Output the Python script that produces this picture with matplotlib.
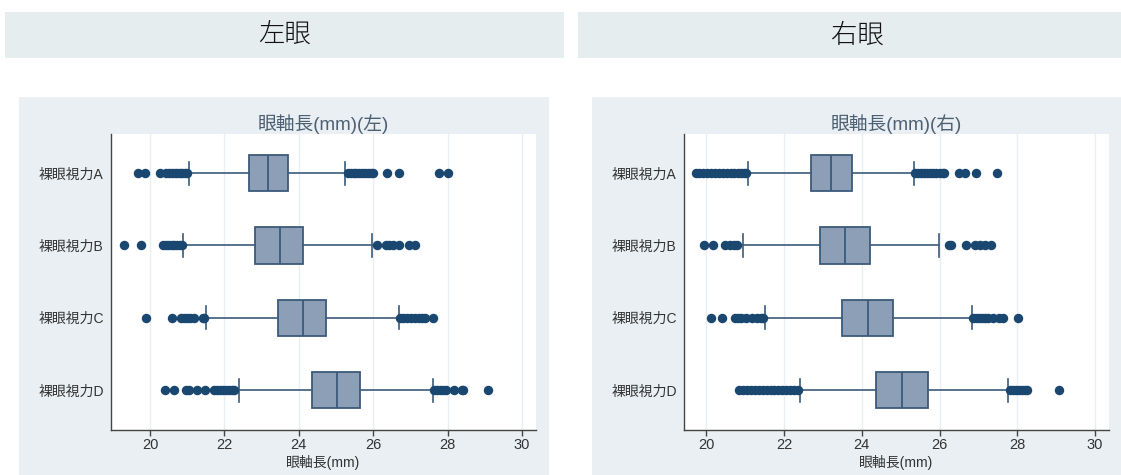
import matplotlib
matplotlib.use("Agg")
import matplotlib.pyplot as plt
from matplotlib.patches import Rectangle

plt.rcParams['font.family'] = ['Liberation Sans', 'Noto Sans CJK JP', 'DejaVu Sans']

# ---------------- data ----------------
categories = ["裸眼視力A", "裸眼視力B", "裸眼視力C", "裸眼視力D"]
xticks = [20, 22, 24, 26, 28, 30]

# Left eye
L_q1 = [22.65, 22.82, 23.44, 24.35]
L_med = [23.18, 23.50, 24.11, 25.04]
L_q3 = [23.70, 24.10, 24.74, 25.65]
L_wlo = [21.04, 20.89, 21.51, 22.39]
L_whi = [25.25, 25.98, 26.69, 27.60]
L_out_A = [19.68, 19.86, 20.28, 20.44, 20.52, 20.60, 20.66, 20.73, 20.80, 20.86, 20.93, 21.00,
           25.33, 25.40, 25.48, 25.55, 25.62, 25.70, 25.78, 25.86, 25.94, 26.00, 26.36, 26.70, 27.78, 28.02]
L_out_B = [19.30, 19.76, 20.36, 20.43, 20.50, 20.58, 20.65, 20.72, 20.80, 20.87,
           26.10, 26.34, 26.42, 26.53, 26.70, 26.96, 27.12]
L_out_C = [19.88, 20.58, 20.82, 20.92, 21.00, 21.08, 21.18, 21.42, 21.46,
           26.72, 26.80, 26.90, 27.02, 27.12, 27.22, 27.32, 27.40, 27.62]
L_out_D = [20.41, 20.64, 20.96, 21.06, 21.25, 21.47, 21.73, 21.80, 21.88, 21.96, 22.04, 22.12, 22.20, 22.26,
           27.64, 27.72, 27.80, 27.88, 27.97, 28.16, 28.38, 28.42, 29.10]

# Right eye
R_q1 = [22.69, 22.92, 23.50, 24.36]
R_med = [23.21, 23.57, 24.16, 25.03]
R_q3 = [23.74, 24.21, 24.81, 25.71]
R_wlo = [21.08, 20.94, 21.50, 22.42]
R_whi = [25.34, 25.98, 26.84, 27.75]
R_out_A = [19.72, 19.80, 19.90, 20.02, 20.12, 20.22, 20.32, 20.42, 20.52, 20.62, 20.72, 20.80, 20.88, 20.96, 21.03,
           25.36, 25.44, 25.52, 25.60, 25.68, 25.76, 25.84, 25.92, 26.00, 26.08, 26.12, 26.51, 26.66, 26.93, 27.49]
R_out_B = [19.93, 20.16, 20.48, 20.60, 20.70, 20.78,
           26.24, 26.30, 26.68, 26.91, 27.05, 27.18, 27.32]
R_out_C = [20.11, 20.39, 20.74, 20.82, 20.90, 21.01, 21.18, 21.30, 21.40, 21.45,
           26.86, 26.94, 27.02, 27.10, 27.18, 27.26, 27.37, 27.53, 27.64, 28.03]
R_out_D = [20.85, 20.95, 21.05, 21.15, 21.25, 21.35, 21.45, 21.55, 21.65, 21.75, 21.85, 21.95, 22.05,
           22.15, 22.25, 22.35, 27.81, 27.88, 27.96, 28.04, 28.12, 28.20, 28.24, 29.07]

headers = ["左眼", "右眼"]
titles = ["眼軸長(mm)(左)", "眼軸長(mm)(右)"]
xlabel = "眼軸長(mm)"

# ---------------- figure ----------------
W, H = 1121, 475
fig = plt.figure(figsize=(W / 100, H / 100), dpi=100)
fig.patch.set_facecolor("white")

BAND = "#e6edef"
PANEL = "#e9eff2"


def rect_px(x0, y0, x1, y1, color):
    fig.patches.append(Rectangle((x0 / W, 1 - y1 / H), (x1 - x0) / W, (y1 - y0) / H,
                                 transform=fig.transFigure, facecolor=color,
                                 edgecolor="none", zorder=-10))


# header bands
rect_px(5, 12, 564, 58, BAND)
rect_px(578, 12, 1121, 58, BAND)
fig.text(284.5 / W, 1 - 35 / H, headers[0], ha="center", va="center", fontsize=19,
         color="#111111", family=["Noto Sans CJK JP"], fontweight="light")
fig.text(857 / W, 1 - 35 / H, headers[1], ha="center", va="center", fontsize=19,
         color="#111111", family=["Noto Sans CJK JP"], fontweight="light")

# panel backgrounds
rect_px(19, 97, 549, 475, PANEL)
rect_px(592, 97, 1121, 475, PANEL)


def stats_for(q1, med, q3, wlo, whi, outs):
    st = []
    for i in range(len(q1)):
        st.append(dict(q1=q1[i], med=med[i], q3=q3[i], whislo=wlo[i], whishi=whi[i],
                       fliers=outs[i], label=categories[i]))
    return st


BOXFACE = "#8c9fb6"
EDGE = "#3b5b7c"
MARK = "#1a476f"


def draw(axpx, stats, xlim, title):
    x0, x1, y0, y1 = axpx
    ax = fig.add_axes([x0 / W, 1 - y1 / H, (x1 - x0) / W, (y1 - y0) / H])
    ax.set_facecolor("white")
    pos = list(range(1, len(categories) + 1))
    ax.bxp(stats, positions=pos, widths=0.5, orientation="horizontal", patch_artist=True,
           capwidths=0.32,
           boxprops=dict(facecolor=BOXFACE, edgecolor=EDGE, linewidth=1.3),
           medianprops=dict(color=EDGE, linewidth=1.3),
           whiskerprops=dict(color=EDGE, linewidth=1.2),
           capprops=dict(color=EDGE, linewidth=1.2),
           flierprops=dict(marker="o", markerfacecolor=MARK, markeredgecolor=MARK,
                           markersize=5.8, linestyle="none"))
    ax.set_ylim(4.55, 0.46)
    ax.set_xlim(*xlim)
    ax.set_yticks(pos)
    ax.set_yticklabels(categories, fontsize=10, color="#333333")
    ax.set_xticks(xticks)
    ax.set_xticklabels([str(v) for v in xticks], fontsize=10.5, color="#333333")
    ax.tick_params(axis="y", length=0, pad=5.5)
    ax.tick_params(axis="x", length=4, width=1, color="#444444", pad=2)
    for s in ["top", "right"]:
        ax.spines[s].set_visible(False)
    for s in ["left", "bottom"]:
        ax.spines[s].set_color("#444444")
        ax.spines[s].set_linewidth(1.0)
    ax.grid(axis="x", color="#e8eef1", linewidth=1.0)
    ax.set_axisbelow(True)
    ax.set_xlabel(xlabel, fontsize=10, color="#333333", labelpad=2)
    ax.set_title(title, fontsize=13.5, color="#4d5f73", pad=2)
    return ax


left_stats = stats_for(L_q1, L_med, L_q3, L_wlo, L_whi, [L_out_A, L_out_B, L_out_C, L_out_D])
right_stats = stats_for(R_q1, R_med, R_q3, R_wlo, R_whi, [R_out_A, R_out_B, R_out_C, R_out_D])

draw((111.4, 535.7, 134, 430), left_stats, (18.96, 30.37), titles[0])
draw((684.3, 1108.5, 134, 430), right_stats, (19.43, 30.35), titles[1])

fig.savefig("out.png", dpi=100, facecolor="white")
